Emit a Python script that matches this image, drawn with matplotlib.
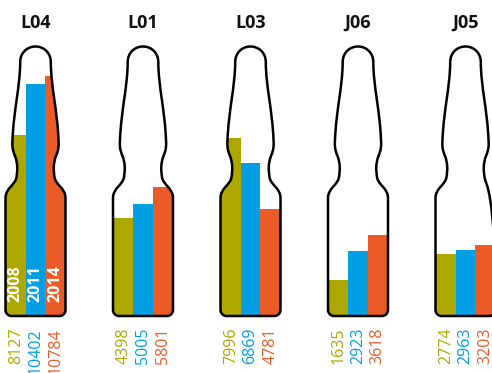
import matplotlib
matplotlib.use("Agg")
import matplotlib.pyplot as plt
from matplotlib.path import Path
from matplotlib.patches import PathPatch

# ── Data ──
sites = ["L04", "L01", "L03", "J06", "J05"]
years = ["2008", "2011", "2014"]
v2008 = [8127, 4398, 7996, 1635, 2774]
v2011 = [10402, 5005, 6869, 2923, 2963]
v2014 = [10784, 5801, 4781, 3618, 3203]
colors = ["#aea700", "#009fe3", "#eb5b27"]

# ── Layout (pixels -> data) ──
W, H = 492, 373
SPACING = 107.5          # px between vial centres
X0 = 35.5                # px centre of first vial
BASE = 316               # px from top where value 0 sits
PX_PER_VAL = 0.0223      # px per unit of value
sx = 1.0 / SPACING
sy = 1.0 / PX_PER_VAL

# right half of an ampoule, in px (dx from centre, dh up from base)
half = [
    ((0, 0), Path.MOVETO),
    ((24, 0), Path.LINETO),
    ((27.3, 0), Path.CURVE4), ((30, 2.7), Path.CURVE4), ((30, 6), Path.CURVE4),
    ((30, 118), Path.LINETO),
    ((30, 128), Path.CURVE4), ((20, 131), Path.CURVE4), ((19, 139), Path.CURVE4),
    ((18, 146), Path.CURVE4), ((17.5, 152), Path.CURVE4), ((20.5, 160), Path.CURVE4),
    ((23, 166), Path.CURVE4), ((23.5, 170), Path.CURVE4), ((23, 176), Path.CURVE4),
    ((22, 205), Path.CURVE4), ((15.3, 230), Path.CURVE4), ((15.3, 254), Path.CURVE4),
    ((15.3, 263), Path.CURVE4), ((8.5, 269.5), Path.CURVE4), ((0, 269.5), Path.CURVE4),
]


def vial_path(i):
    cx = i
    verts, codes = [], []
    for (dx, dh), c in half:
        verts.append((cx + dx * sx, dh * sy))
        codes.append(c)
    # mirror for the left half, walking back down
    mirrored = [(-dx, dh) for (dx, dh), _ in half[::-1]]
    mcodes = [c for _, c in half[1:]][::-1]
    for (dx, dh), c in zip(mirrored[1:], mcodes):
        verts.append((cx + dx * sx, dh * sy))
        codes.append(c)
    verts.append(verts[0])
    codes.append(Path.CLOSEPOLY)
    return Path(verts, codes)


fig = plt.figure(figsize=(W / 100, H / 100), dpi=100)
ax = fig.add_axes([0, 0, 1, 1])
ax.set_xlim(-X0 / SPACING, (W - X0) / SPACING)
ax.set_ylim(-(H - BASE) * sy, BASE * sy)
ax.axis("off")

bar_w = 59.0 / 3 * sx
series = [v2008, v2011, v2014]

for i, site in enumerate(sites):
    p = vial_path(i)
    clip = PathPatch(p, facecolor="none", edgecolor="none", transform=ax.transData)
    ax.add_patch(clip)
    for k, vals in enumerate(series):
        xk = i + (k - 1) * bar_w
        bars = ax.bar(xk, vals[i], width=bar_w, color=colors[k], zorder=2)
        for b in bars:
            b.set_clip_path(clip)
        ax.text(xk, -12 * sy, str(vals[i]), rotation=90, ha="center", va="top",
                color=colors[k], fontsize=11.5, family="Open Sans", zorder=4)
        if i == 0:
            ax.text(xk, 14 * sy, years[k], rotation=90, ha="center", va="bottom",
                    color="white", fontsize=11.5, fontweight="bold",
                    family="Open Sans", zorder=4)
    ax.add_patch(PathPatch(p, facecolor="none", edgecolor="black", lw=1.8,
                           zorder=3, joinstyle="round"))
    ax.text(i, (BASE - 23) * sy, site, ha="center", va="center",
            fontsize=13, fontweight="bold", family="Open Sans", color="#111111")

fig.savefig("out.png", dpi=100)
